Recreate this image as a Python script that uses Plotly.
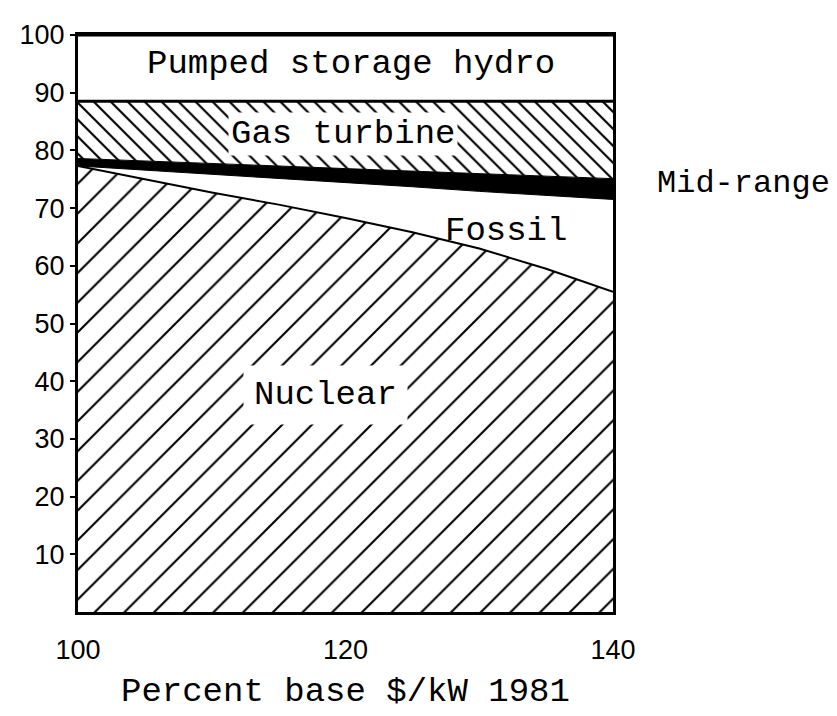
import plotly.graph_objects as go

# Data (percent shares of capacity, stacked from bottom)
x_cost = [100, 105, 110, 115, 120, 125, 130, 135, 140]
nuclear = [77.3, 75.0, 72.7, 70.6, 68.3, 65.8, 63.0, 59.5, 55.5]
fossil = [0.0, 1.6, 3.15, 4.5, 6.1, 7.9, 9.9, 12.7, 16.0]
mid_range = [1.3, 1.6, 1.85, 2.2, 2.45, 2.7, 3.1, 3.3, 3.6]
gas_turbine = [9.9, 10.3, 10.8, 11.2, 11.65, 12.1, 12.5, 13.0, 13.4]
pumped_storage = [11.5] * 9

x_ticks = [100, 120, 140]
y_ticks = [10, 20, 30, 40, 50, 60, 70, 80, 90, 100]

MONO = "Courier New, Liberation Mono, monospace"
SANS = "Arial, Liberation Sans, sans-serif"

fig = go.Figure()

fig.add_trace(go.Scatter(
    x=x_cost, y=nuclear, stackgroup="s", mode="lines", name="Nuclear",
    line=dict(color="black", width=2),
    fillcolor="white",
    fillpattern=dict(shape="/", size=21, solidity=0.1, fgcolor="black",
                     bgcolor="white", fillmode="replace"),
))
fig.add_trace(go.Scatter(
    x=x_cost, y=fossil, stackgroup="s", mode="lines", name="Fossil",
    line=dict(color="black", width=1), fillcolor="white",
))
fig.add_trace(go.Scatter(
    x=x_cost, y=mid_range, stackgroup="s", mode="lines", name="Mid-range",
    line=dict(color="black", width=1), fillcolor="black",
))
fig.add_trace(go.Scatter(
    x=x_cost, y=gas_turbine, stackgroup="s", mode="lines", name="Gas turbine",
    line=dict(color="black", width=3),
    fillcolor="white",
    fillpattern=dict(shape="\\", size=12, solidity=0.18, fgcolor="black",
                     bgcolor="white", fillmode="replace"),
))
fig.add_trace(go.Scatter(
    x=x_cost, y=pumped_storage, stackgroup="s", mode="lines", name="Pumped storage hydro",
    line=dict(color="black", width=3), fillcolor="white",
))

ann_font = dict(family=MONO, size=34, color="black")
fig.add_annotation(x=120.4, y=95, text="Pumped storage hydro", showarrow=False, font=ann_font)
fig.add_annotation(x=119.8, y=82.8, text="Gas turbine", showarrow=False, font=ann_font,
                   bgcolor="white", borderpad=2)
fig.add_annotation(x=132.0, y=66.1, text="Fossil", showarrow=False, font=ann_font)
fig.add_annotation(x=118.5, y=37.6, text="Nuclear", showarrow=False, font=ann_font,
                   bgcolor="white", borderpad=10)
fig.add_annotation(x=1.244, xref="paper", y=0.742, yref="paper",
                   xanchor="center", yanchor="middle",
                   text="Mid-range", showarrow=False,
                   font=dict(family=MONO, size=32, color="black"))
fig.add_annotation(x=0.5, xref="paper", y=-0.138, yref="paper",
                   xanchor="center", yanchor="middle",
                   text="Percent base $/kW 1981", showarrow=False, font=ann_font)

fig.update_layout(
    width=829, height=708,
    margin=dict(l=65, r=224, t=19, b=104),
    plot_bgcolor="white", paper_bgcolor="white",
    showlegend=False,
)
fig.update_xaxes(
    range=[100, 140], tickvals=x_ticks, ticktext=[str(v) for v in x_ticks],
    showgrid=False, zeroline=False, showline=True, linecolor="black", linewidth=3,
    mirror=True, ticks="", ticklabelstandoff=12,
    tickfont=dict(family=SANS, size=27, color="black"),
)
fig.update_yaxes(
    range=[0, 100], tickvals=y_ticks, ticktext=[str(v) for v in y_ticks],
    showgrid=False, zeroline=False, showline=True, linecolor="black", linewidth=3,
    mirror=True, ticks="outside", ticklen=5, tickwidth=1.5, tickcolor="black",
    tickfont=dict(family=SANS, size=27, color="black"),
)

fig.write_html("out.html")
